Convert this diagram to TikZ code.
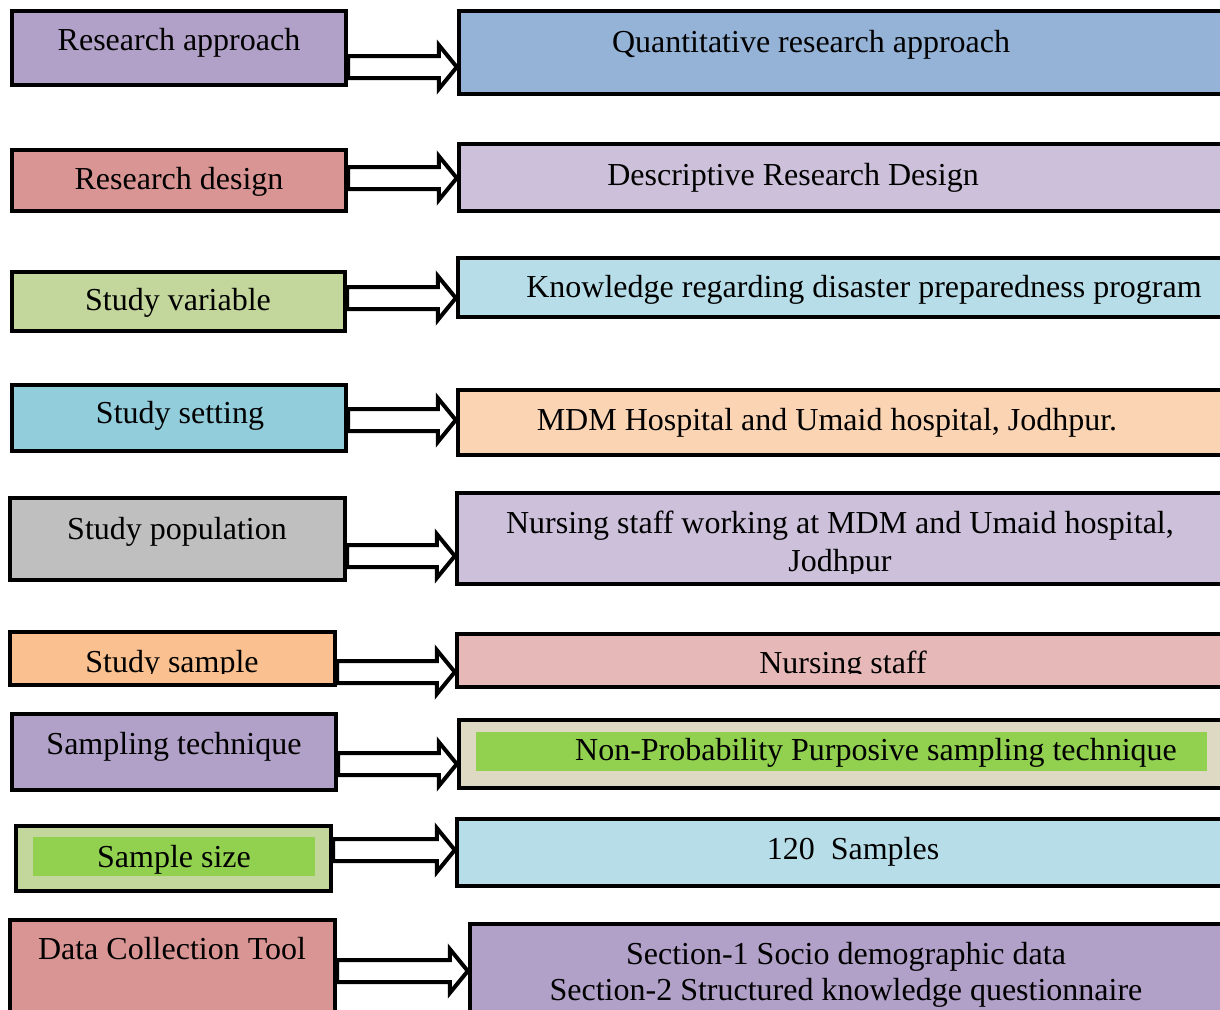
\documentclass[tikz,border=0pt]{standalone}
\usepackage{fontspec}
\setmainfont{Liberation Serif}
\usetikzlibrary{fit,calc}
\definecolor{lilac}{HTML}{B1A0C7}
\definecolor{rose}{HTML}{D99594}
\definecolor{olive}{HTML}{C3D69B}
\definecolor{aqua}{HTML}{92CDDC}
\definecolor{silver}{HTML}{BFBFBF}
\definecolor{apricot}{HTML}{FAC090}
\definecolor{lime}{HTML}{92D050}
\definecolor{steel}{HTML}{95B3D7}
\definecolor{lavender}{HTML}{CCC0DA}
\definecolor{sky}{HTML}{B7DEE8}
\definecolor{peach}{HTML}{FBD4B4}
\definecolor{blush}{HTML}{E6B9B8}
\definecolor{sand}{HTML}{DDD9C3}
\newcommand{\blockarrow}[3]{%
	\draw[hollow] let \p1 = (#1.east |- 0,#3), \p2 = (#2.west |- 0,#3) in
		(\x1,\y1+5.5pt) -- (\x2-9pt,\y1+5.5pt) -- (\x2-9pt,\y1+11pt) -- (\x2,\y1)
		-- (\x2-9pt,\y1-11pt) -- (\x2-9pt,\y1-5.5pt) -- (\x1,\y1-5.5pt) -- cycle;}
\begin{document}
\begin{tikzpicture}[x = .5pt, y = -.5pt,
	box/.style = {draw, line width = 2.2pt, inner sep = 0pt},
	lbl/.style = {anchor = base, font = \fontsize{16}{19}\selectfont, inner sep = 0pt},
	hollow/.style = {draw, fill = white, line width = 2pt}]
	\clip (0,0) rectangle (1220,1009);
	\node[box, fill = lilac, fit = {(12,11) (346,85)}] (ra) {};
	\node[box, fill = rose, fit = {(12,150) (346,211)}] (rd) {};
	\node[box, fill = olive, fit = {(12,272) (345,331)}] (sv) {};
	\node[box, fill = aqua, fit = {(12,385) (346,451)}] (ss) {};
	\node[box, fill = silver, fit = {(10,498) (345,580)}] (sp) {};
	\node[box, fill = apricot, fit = {(10,632) (335,685)}] (sm) {};
	\node[box, fill = lilac, fit = {(12,714) (336,790)}] (st) {};
	\node[box, fill = olive, fit = {(16,826) (331,891)}] (sz) {};
	\node[fill = lime, inner sep = 0pt, fit = {(33,837) (315,876)}] (sz-in) {};
	\node[box, fill = rose, fit = {(10,920) (335,1030)}] (dct) {};
	\node[box, fill = steel, fit = {(459,11) (1240,94)}] (qra) {};
	\node[box, fill = lavender, fit = {(459,144) (1240,211)}] (drd) {};
	\node[box, fill = sky, fit = {(458,258) (1240,317)}] (kdp) {};
	\node[box, fill = peach, fit = {(458,390) (1240,455)}] (mdm) {};
	\node[box, fill = lavender, fit = {(457,493) (1240,584)}] (nsw) {};
	\node[box, fill = blush, fit = {(457,634) (1240,687)}] (ns) {};
	\node[box, fill = sand, fit = {(459,720) (1240,788)}] (nps) {};
	\node[fill = lime, inner sep = 0pt, fit = {(476,732) (1207,771)}] (nps-in) {};
	\node[box, fill = sky, fit = {(457,819) (1240,886)}] (smp) {};
	\node[box, fill = lilac, fit = {(470,924) (1240,1030)}] (sec) {};
	\node[lbl] (ra-t) at (179,50) {Research approach};
	\node[lbl] (rd-t) at (179,189) {Research design};
	\node[lbl] (sv-t) at (178,310) {Study variable};
	\node[lbl] (ss-t) at (180,423) {Study setting};
	\node[lbl] (sp-t) at (177,539) {Study population};
	\begin{scope}
		\clip (0,600) rectangle (340,673);
		\node[lbl] (sm-t) at (172,672) {Study sample};
	\end{scope}
	\node[lbl] (st-t) at (174,754) {Sampling technique};
	\node[lbl] (sz-t) at (174,867) {Sample size};
	\node[lbl] (dct-t) at (172,959) {Data Collection Tool};
	\node[lbl] (qra-t) at (811,52) {Quantitative research approach};
	\node[lbl] (drd-t) at (793,185) {Descriptive Research Design};
	\node[lbl] (kdp-t) at (864,297) {Knowledge regarding disaster preparedness program};
	\node[lbl] (mdm-t) at (827,430) {MDM Hospital and Umaid hospital, Jodhpur.};
	\node[lbl] (nsw-t1) at (840,533) {Nursing staff working at MDM and Umaid hospital,};
	\begin{scope}
		\clip (460,540) rectangle (1220,573);
		\node[lbl] (nsw-t2) at (840,571) {Jodhpur};
	\end{scope}
	\begin{scope}
		\clip (460,640) rectangle (1220,673);
		\node[lbl] (ns-t) at (843,673) {Nursing staff};
	\end{scope}
	\node[lbl] (nps-t) at (876,760) {Non-Probability Purposive sampling technique};
	\node[lbl] (smp-t) at (853,859) {120\ \ Samples};
	\node[lbl] (sec-t1) at (846,964) {Section-1 Socio demographic data};
	\node[lbl] (sec-t2) at (846,1000) {Section-2 Structured knowledge questionnaire};
	\blockarrow{ra}{qra}{67}
	\blockarrow{rd}{drd}{178}
	\blockarrow{sv}{kdp}{298}
	\blockarrow{ss}{mdm}{420}
	\blockarrow{sp}{nsw}{556}
	\blockarrow{sm}{ns}{672}
	\blockarrow{st}{nps}{764}
	\blockarrow{sz}{smp}{850}
	\blockarrow{dct}{sec}{971}
\end{tikzpicture}
\end{document}
